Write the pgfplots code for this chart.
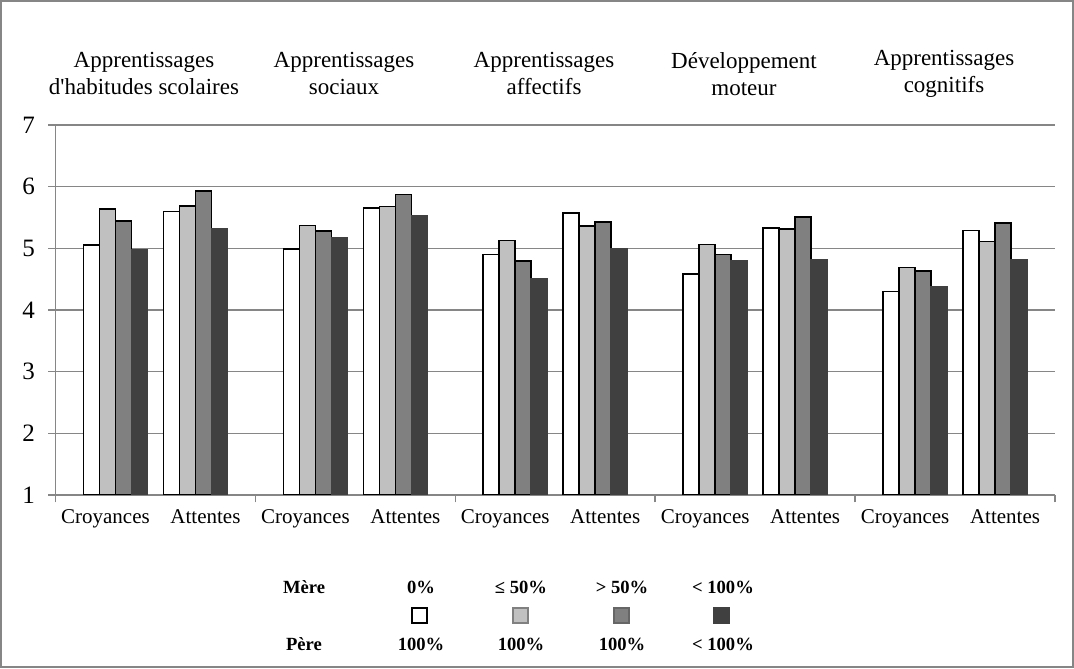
\documentclass[border=0pt]{standalone}
\usepackage{fontspec}
\setmainfont{Liberation Serif}
\usepackage{pgfplots}
\pgfplotsset{compat=1.18}
\usepackage{pgfplotstable}

\definecolor{linegray}{RGB}{134,134,134}
\definecolor{serA}{RGB}{255,255,255}
\definecolor{serB}{RGB}{192,192,192}
\definecolor{serC}{RGB}{128,128,128}
\definecolor{serD}{RGB}{64,64,64}

% pos = centre of the four-bar cluster (Croyances, Attentes for each domain)
% a: 0%/100%, b: <=50%/100%, c: >50%/100%, d: <100%/<100%
\pgfplotstableread{
pos  a     b     c     d
0.6  5.05  5.64  5.44  4.97
1.4  5.60  5.69  5.93  5.31
2.6  4.99  5.37  5.28  5.17
3.4  5.65  5.68  5.87  5.52
4.6  4.90  5.13  4.79  4.51
5.4  5.57  5.36  5.43  5.00
6.6  4.58  5.06  4.90  4.79
7.4  5.33  5.31  5.51  4.81
8.6  4.30  4.69  4.63  4.37
9.4  5.29  5.11  5.41  4.82
}\scores

\newcommand{\lab}{\fontsize{10.5}{11.6}\selectfont}
\newcommand{\ttl}{\fontsize{11.5}{13.5}\selectfont}
\newcommand{\leg}{\bfseries\fontsize{9.3}{10}\selectfont}

\begin{document}
\begin{tikzpicture}[x=0.5pt,y=0.5pt]
\useasboundingbox (0,0) rectangle (1074,668);
\draw[linegray, line width=0.75pt] (1,1) rectangle (1073,667);

\begin{axis}[
  at={(27.75pt,86.5pt)}, anchor=south west,
  scale only axis, width=499.75pt, height=185pt,
  xmin=0, xmax=10, ymin=1, ymax=7,
  axis lines*=left,
  axis line style={linegray, line width=0.75pt},
  ytick={1,...,7},
  ymajorgrids, grid style={linegray, line width=0.75pt},
  tick align=outside,
  tick style={linegray, line width=0.75pt},
  major tick length=3.75pt,
  xtick={0,2,...,10},
  xticklabels={},
  extra x ticks={0.5,1.5,...,9.5},
  extra x tick labels={Croyances,Attentes,Croyances,Attentes,Croyances,Attentes,Croyances,Attentes,Croyances,Attentes},
  extra x tick style={major tick length=0pt},
  /pgf/number format/assume math mode=true,
  yticklabel style={font=\fontsize{12.5}{14}\selectfont, xshift=-3pt},
  xticklabel style={font=\lab, yshift=-4pt},
  ybar, bar width=0.16,
]
\addplot[fill=serA, draw=black, line width=0.8pt, bar shift=-0.24] table[x=pos,y=a]{\scores};
\addplot[fill=serB, draw=black, line width=0.8pt, bar shift=-0.08] table[x=pos,y=b]{\scores};
\addplot[fill=serC, draw=black, line width=0.8pt, bar shift=0.08] table[x=pos,y=c]{\scores};
\addplot[fill=serD, draw=serD, line width=0.8pt, bar shift=0.24] table[x=pos,y=d]{\scores};
\end{axis}

% domain titles above each pair of categories
\begin{scope}[every node/.style={align=center, font=\ttl}]
\node at (144,594) {Apprentissages\\d\textquotesingle habitudes scolaires};
\node at (344,594) {Apprentissages\\sociaux};
\node at (544,594) {Apprentissages\\affectifs};
\node at (744,594) {Développement\\moteur};
\node at (944,594) {Apprentissages\\cognitifs};
\end{scope}

% key: mother / father employment
\begin{scope}[every node/.style={font=\leg}]
\node at (304,81) {Mère};
\node at (304,24) {Père};
\node at (421,81) {0\%};
\node at (521,81) {≤ 50\%};
\node at (622,81) {> 50\%};
\node at (723,81) {< 100\%};
\node at (421,24) {100\%};
\node at (521,24) {100\%};
\node at (622,24) {100\%};
\node at (723,24) {< 100\%};
\end{scope}
\draw[fill=serA, draw=black, line width=0.6pt] (412,45) rectangle (427,60);
\draw[fill=serB, draw=serC, line width=0.6pt] (513,45) rectangle (528,60);
\draw[fill=serC, draw=serD!80, line width=0.6pt] (614,45) rectangle (629,60);
\draw[fill=serD, draw=serD, line width=0.6pt] (714,45) rectangle (729,60);
\end{tikzpicture}
\end{document}
